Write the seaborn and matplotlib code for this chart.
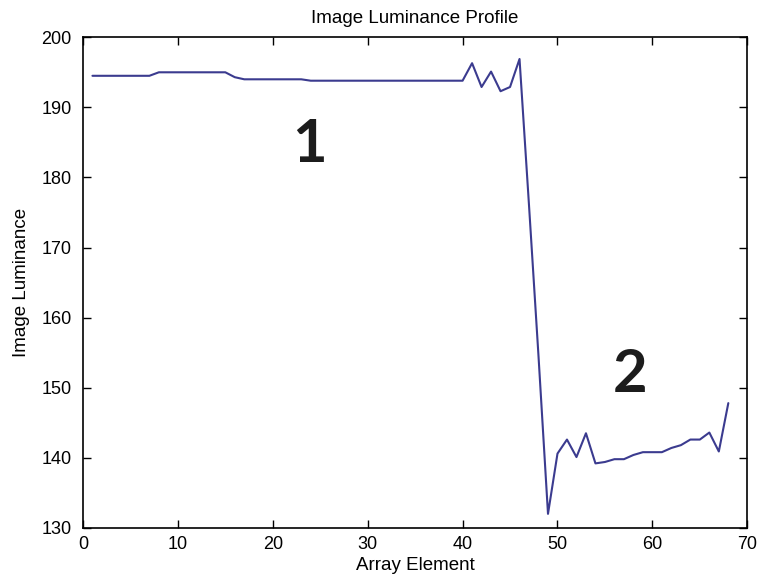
import numpy as np
import pandas as pd
import matplotlib
matplotlib.use("Agg")
import matplotlib.pyplot as plt
import seaborn as sns

# Data
array_element = list(range(1, 69))
luminance = [
    194.5, 194.5, 194.5, 194.5, 194.5, 194.5, 194.5,          # 1-7
    195.0, 195.0, 195.0, 195.0, 195.0, 195.0, 195.0, 195.0,   # 8-15
    194.3, 194.0, 194.0, 194.0, 194.0, 194.0, 194.0, 194.0,   # 16-23
    193.8, 193.8, 193.8, 193.8, 193.8, 193.8, 193.8, 193.8,   # 24-31
    193.8, 193.8, 193.8, 193.8, 193.8, 193.8, 193.8, 193.8,   # 32-39
    193.8, 196.3, 192.9, 195.1, 192.3, 192.9, 196.9,          # 40-46
    176.0, 154.5, 132.0,                                      # 47-49
    140.6, 142.6, 140.1, 143.5, 139.2, 139.4, 139.8, 139.8,   # 50-57
    140.4, 140.8, 140.8, 140.8, 141.4, 141.8, 142.6, 142.6,   # 58-65
    143.6, 140.9, 147.8,                                      # 66-68
]
x_ticks = [0, 10, 20, 30, 40, 50, 60, 70]
y_ticks = [130, 140, 150, 160, 170, 180, 190, 200]
region_labels = ["1", "2"]
region_x = [23.9, 57.6]
region_y = [184.6, 151.8]

df = pd.DataFrame({"Array Element": array_element, "Image Luminance": luminance})

sns.set_theme(style="white")
plt.rcParams["font.family"] = ["Liberation Sans", "DejaVu Sans"]
plt.rcParams["text.color"] = "black"
plt.rcParams["axes.labelcolor"] = "black"

fig = plt.figure(figsize=(7.61, 5.82), dpi=100)
ax = fig.add_axes([0.109, 0.093, 0.873, 0.843])

sns.lineplot(data=df, x="Array Element", y="Image Luminance", ax=ax,
             color="#3b3b8f", linewidth=1.5)

ax.set_xlim(0, 70)
ax.set_ylim(130, 200)
ax.set_xticks(x_ticks)
ax.set_yticks(y_ticks)
ax.set_xticklabels([str(t) for t in x_ticks])
ax.set_yticklabels([str(t) for t in y_ticks])
ax.tick_params(direction="in", length=6, width=1.0, colors="black",
               labelsize=13, top=True, right=True, bottom=True, left=True)
ax.tick_params(axis="x", pad=6)
ax.tick_params(axis="y", pad=8)
for s in ax.spines.values():
    s.set_visible(True)
    s.set_color("black")
    s.set_linewidth(1.2)

ax.set_title("Image Luminance Profile", fontsize=13.5, pad=10, color="black")
ax.set_xlabel("Array Element", fontsize=13.5, labelpad=3)
ax.set_ylabel("Image Luminance", fontsize=13.5, labelpad=8)

for lab, xx, yy in zip(region_labels, region_x, region_y):
    ax.text(xx, yy, lab, fontsize=43, ha="center", va="center",
            family=["Lato", "DejaVu Sans"], fontweight="bold", color="#1c1c1c")

fig.savefig("out.png", dpi=100)
